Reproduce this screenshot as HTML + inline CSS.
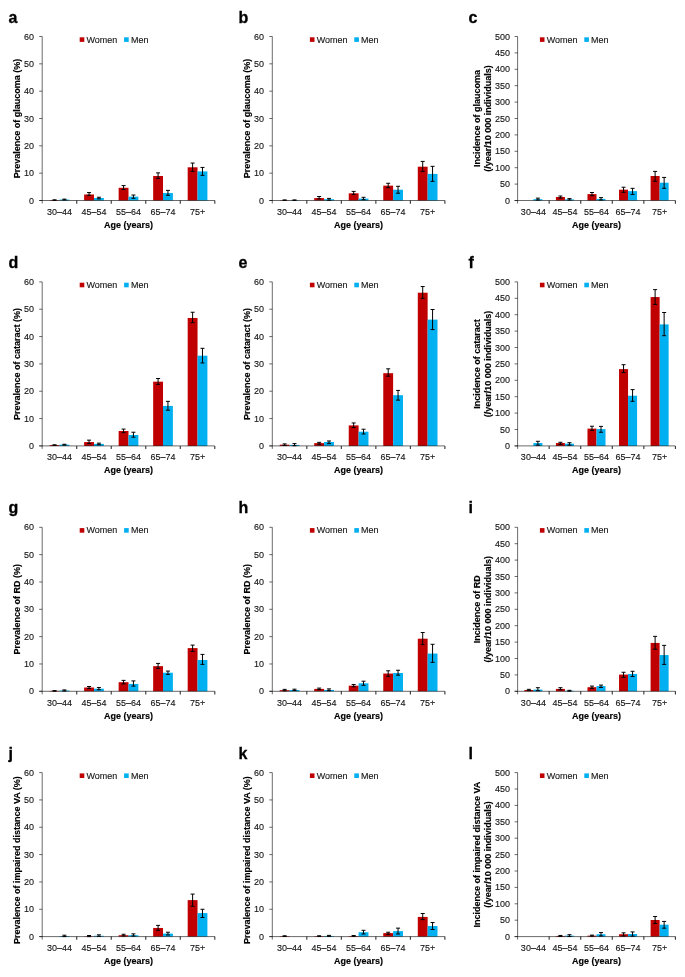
<!DOCTYPE html>
<html><head><meta charset="utf-8"><style>
html,body{margin:0;padding:0;background:#fff;}
svg{display:block;will-change:transform;}
text{font-family:"Liberation Sans",sans-serif;}
.tk{font-size:9px;fill:#1a1a1a;stroke:#000;stroke-width:0.12px;}
.tt{font-size:9px;font-weight:bold;fill:#000;stroke:#000;stroke-width:0.15px;}
.lab{font-size:16px;font-weight:bold;fill:#000;stroke:#000;stroke-width:0.3px;}
.ax{stroke:rgba(0,0,0,0.58);stroke-width:1;fill:none;}
.eb{stroke:#000;stroke-width:1;fill:none;}
.xt{stroke:rgba(0,0,0,0.8);stroke-width:1.1;fill:none;}
</style></head><body>
<svg width="685" height="977" viewBox="0 0 685 977">
<rect width="685" height="977" fill="#fff"/>
<text transform="translate(8.6 22.5)" class="lab">a</text>
<rect x="49.6" y="200.09" width="9.86" height="0.41" fill="#C00000"/>
<rect x="59.46" y="199.54" width="9.86" height="0.96" fill="#00B0F0"/>
<path d="M54.53 199.82V200.36M52.53 199.82h4M52.53 200.36h4" class="eb"/>
<path d="M64.39 199.13V199.95M62.39 199.13h4M62.39 199.95h4" class="eb"/>
<rect x="84.12" y="194.49" width="9.86" height="6.01" fill="#C00000"/>
<rect x="93.98" y="198.04" width="9.86" height="2.46" fill="#00B0F0"/>
<path d="M89.05 192.57V195.31M87.05 192.57h4M87.05 195.31h4" class="eb"/>
<path d="M98.91 197.22V198.86M96.91 197.22h4M96.91 198.86h4" class="eb"/>
<rect x="118.64" y="187.79" width="9.86" height="12.71" fill="#C00000"/>
<rect x="128.5" y="196.67" width="9.86" height="3.83" fill="#00B0F0"/>
<path d="M123.57 185.6V189.57M121.57 185.6h4M121.57 189.57h4" class="eb"/>
<path d="M133.43 195.03V198.31M131.43 195.03h4M131.43 198.31h4" class="eb"/>
<rect x="153.16" y="175.98" width="9.86" height="24.52" fill="#C00000"/>
<rect x="163.02" y="193.04" width="9.86" height="7.46" fill="#00B0F0"/>
<path d="M158.09 172.89V178.36M156.09 172.89h4M156.09 178.36h4" class="eb"/>
<path d="M167.95 190.39V195.31M165.95 190.39h4M165.95 195.31h4" class="eb"/>
<rect x="187.68" y="167.29" width="9.86" height="33.21" fill="#C00000"/>
<rect x="197.54" y="171.39" width="9.86" height="29.11" fill="#00B0F0"/>
<path d="M192.61 163.05V171.39M190.61 163.05h4M190.61 171.39h4" class="eb"/>
<path d="M202.47 167.43V175.35M200.47 167.43h4M200.47 175.35h4" class="eb"/>
<path d="M42.2 36.5V203.5" class="ax"/>
<path d="M39.2 200.5H214.8" class="ax"/>
<path d="M39.2 200.5H42.2" class="ax"/>
<text transform="translate(34 203.5) scale(1 1.08)" class="tk" text-anchor="end">0</text>
<path d="M39.2 173.17H42.2" class="ax"/>
<text transform="translate(34 176.17) scale(1 1.08)" class="tk" text-anchor="end">10</text>
<path d="M39.2 145.83H42.2" class="ax"/>
<text transform="translate(34 148.83) scale(1 1.08)" class="tk" text-anchor="end">20</text>
<path d="M39.2 118.5H42.2" class="ax"/>
<text transform="translate(34 121.5) scale(1 1.08)" class="tk" text-anchor="end">30</text>
<path d="M39.2 91.17H42.2" class="ax"/>
<text transform="translate(34 94.17) scale(1 1.08)" class="tk" text-anchor="end">40</text>
<path d="M39.2 63.83H42.2" class="ax"/>
<text transform="translate(34 66.83) scale(1 1.08)" class="tk" text-anchor="end">50</text>
<path d="M39.2 36.5H42.2" class="ax"/>
<text transform="translate(34 39.5) scale(1 1.08)" class="tk" text-anchor="end">60</text>
<path d="M76.72 200.5V203.7" class="xt"/>
<path d="M111.24 200.5V203.7" class="xt"/>
<path d="M145.76 200.5V203.7" class="xt"/>
<path d="M180.28 200.5V203.7" class="xt"/>
<path d="M214.8 200.5V203.7" class="xt"/>
<text transform="translate(59.46 214.7) scale(1 1.08)" class="tk" text-anchor="middle">30–44</text>
<text transform="translate(93.98 214.7) scale(1 1.08)" class="tk" text-anchor="middle">45–54</text>
<text transform="translate(128.5 214.7) scale(1 1.08)" class="tk" text-anchor="middle">55–64</text>
<text transform="translate(163.02 214.7) scale(1 1.08)" class="tk" text-anchor="middle">65–74</text>
<text transform="translate(197.54 214.7) scale(1 1.08)" class="tk" text-anchor="middle">75+</text>
<text transform="translate(128.5 227.8) scale(1 1.08)" class="tt" text-anchor="middle">Age (years)</text>
<text transform="translate(19.9 118.5) rotate(-90) scale(1 1.08)" class="tt" text-anchor="middle">Prevalence of glaucoma (%)</text>
<rect x="79.7" y="37.3" width="4.6" height="4.6" fill="#C00000"/>
<text transform="translate(86.5 42.6) scale(1 1.08)" class="tk">Women</text>
<rect x="124.1" y="37.3" width="4.6" height="4.6" fill="#00B0F0"/>
<text transform="translate(130.9 42.6) scale(1 1.08)" class="tk">Men</text>
<text transform="translate(238.6 22.5)" class="lab">b</text>
<rect x="279.7" y="200.23" width="9.86" height="0.27" fill="#C00000"/>
<rect x="289.56" y="200.23" width="9.86" height="0.27" fill="#00B0F0"/>
<path d="M284.63 199.95V200.36M282.63 199.95h4M282.63 200.36h4" class="eb"/>
<path d="M294.49 199.95V200.36M292.49 199.95h4M292.49 200.36h4" class="eb"/>
<rect x="314.22" y="198.09" width="9.86" height="2.41" fill="#C00000"/>
<rect x="324.08" y="199.19" width="9.86" height="1.31" fill="#00B0F0"/>
<path d="M319.15 196.51V198.91M317.15 196.51h4M317.15 198.91h4" class="eb"/>
<path d="M329.01 198.4V200.23M327.01 198.4h4M327.01 200.23h4" class="eb"/>
<rect x="348.74" y="193.31" width="9.86" height="7.19" fill="#C00000"/>
<rect x="358.6" y="198.59" width="9.86" height="1.91" fill="#00B0F0"/>
<path d="M353.67 191.4V194.4M351.67 191.4h4M351.67 194.4h4" class="eb"/>
<path d="M363.53 197.3V199.68M361.53 197.3h4M361.53 199.68h4" class="eb"/>
<rect x="383.26" y="185.63" width="9.86" height="14.87" fill="#C00000"/>
<rect x="393.12" y="189.73" width="9.86" height="10.77" fill="#00B0F0"/>
<path d="M388.19 183.28V187.65M386.19 183.28h4M386.19 187.65h4" class="eb"/>
<path d="M398.05 186.29V193.23M396.05 186.29h4M396.05 193.23h4" class="eb"/>
<rect x="417.78" y="166.69" width="9.86" height="33.81" fill="#C00000"/>
<rect x="427.64" y="173.9" width="9.86" height="26.6" fill="#00B0F0"/>
<path d="M422.71 161.41V171.39M420.71 161.41h4M420.71 171.39h4" class="eb"/>
<path d="M432.57 166.33V181.37M430.57 166.33h4M430.57 181.37h4" class="eb"/>
<path d="M272.3 36.5V203.5" class="ax"/>
<path d="M269.3 200.5H444.9" class="ax"/>
<path d="M269.3 200.5H272.3" class="ax"/>
<text transform="translate(264.1 203.5) scale(1 1.08)" class="tk" text-anchor="end">0</text>
<path d="M269.3 173.17H272.3" class="ax"/>
<text transform="translate(264.1 176.17) scale(1 1.08)" class="tk" text-anchor="end">10</text>
<path d="M269.3 145.83H272.3" class="ax"/>
<text transform="translate(264.1 148.83) scale(1 1.08)" class="tk" text-anchor="end">20</text>
<path d="M269.3 118.5H272.3" class="ax"/>
<text transform="translate(264.1 121.5) scale(1 1.08)" class="tk" text-anchor="end">30</text>
<path d="M269.3 91.17H272.3" class="ax"/>
<text transform="translate(264.1 94.17) scale(1 1.08)" class="tk" text-anchor="end">40</text>
<path d="M269.3 63.83H272.3" class="ax"/>
<text transform="translate(264.1 66.83) scale(1 1.08)" class="tk" text-anchor="end">50</text>
<path d="M269.3 36.5H272.3" class="ax"/>
<text transform="translate(264.1 39.5) scale(1 1.08)" class="tk" text-anchor="end">60</text>
<path d="M306.82 200.5V203.7" class="xt"/>
<path d="M341.34 200.5V203.7" class="xt"/>
<path d="M375.86 200.5V203.7" class="xt"/>
<path d="M410.38 200.5V203.7" class="xt"/>
<path d="M444.9 200.5V203.7" class="xt"/>
<text transform="translate(289.56 214.7) scale(1 1.08)" class="tk" text-anchor="middle">30–44</text>
<text transform="translate(324.08 214.7) scale(1 1.08)" class="tk" text-anchor="middle">45–54</text>
<text transform="translate(358.6 214.7) scale(1 1.08)" class="tk" text-anchor="middle">55–64</text>
<text transform="translate(393.12 214.7) scale(1 1.08)" class="tk" text-anchor="middle">65–74</text>
<text transform="translate(427.64 214.7) scale(1 1.08)" class="tk" text-anchor="middle">75+</text>
<text transform="translate(358.6 227.8) scale(1 1.08)" class="tt" text-anchor="middle">Age (years)</text>
<text transform="translate(250 118.5) rotate(-90) scale(1 1.08)" class="tt" text-anchor="middle">Prevalence of glaucoma (%)</text>
<rect x="309.9" y="37.3" width="4.6" height="4.6" fill="#C00000"/>
<text transform="translate(316.7 42.6) scale(1 1.08)" class="tk">Women</text>
<rect x="354.3" y="37.3" width="4.6" height="4.6" fill="#00B0F0"/>
<text transform="translate(361.1 42.6) scale(1 1.08)" class="tk">Men</text>
<text transform="translate(468.6 22.5)" class="lab">c</text>
<rect x="533.38" y="199.19" width="9.02" height="1.31" fill="#00B0F0"/>
<path d="M537.89 198.11V200.01M535.89 198.11h4M535.89 200.01h4" class="eb"/>
<rect x="555.92" y="196.99" width="9.02" height="3.51" fill="#C00000"/>
<rect x="564.94" y="199.38" width="9.02" height="1.12" fill="#00B0F0"/>
<path d="M560.43 196.01V198.11M558.43 196.01h4M558.43 198.11h4" class="eb"/>
<path d="M569.45 198.6V200.01M567.45 198.6h4M567.45 200.01h4" class="eb"/>
<rect x="587.48" y="194.1" width="9.02" height="6.4" fill="#C00000"/>
<rect x="596.5" y="198.89" width="9.02" height="1.61" fill="#00B0F0"/>
<path d="M591.99 192.5V195.71M589.99 192.5h4M589.99 195.71h4" class="eb"/>
<path d="M601.01 197.61V200.01M599.01 197.61h4M599.01 200.01h4" class="eb"/>
<rect x="619.04" y="189.68" width="9.02" height="10.82" fill="#C00000"/>
<rect x="628.06" y="191.12" width="9.02" height="9.38" fill="#00B0F0"/>
<path d="M623.55 187.22V192.3M621.55 187.22h4M621.55 192.3h4" class="eb"/>
<path d="M632.57 188.33V194.43M630.57 188.33h4M630.57 194.43h4" class="eb"/>
<rect x="650.6" y="176" width="9.02" height="24.5" fill="#C00000"/>
<rect x="659.62" y="182.72" width="9.02" height="17.78" fill="#00B0F0"/>
<path d="M655.11 171.41V181.31M653.11 171.41h4M653.11 181.31h4" class="eb"/>
<path d="M664.13 177.41V188.33M662.13 177.41h4M662.13 188.33h4" class="eb"/>
<path d="M517.6 36.5V203.5" class="ax"/>
<path d="M514.6 200.5H675.4" class="ax"/>
<path d="M514.6 200.5H517.6" class="ax"/>
<text transform="translate(509.9 203.5) scale(1 1.08)" class="tk" text-anchor="end">0</text>
<path d="M514.6 184.1H517.6" class="ax"/>
<text transform="translate(509.9 187.1) scale(1 1.08)" class="tk" text-anchor="end">50</text>
<path d="M514.6 167.7H517.6" class="ax"/>
<text transform="translate(509.9 170.7) scale(1 1.08)" class="tk" text-anchor="end">100</text>
<path d="M514.6 151.3H517.6" class="ax"/>
<text transform="translate(509.9 154.3) scale(1 1.08)" class="tk" text-anchor="end">150</text>
<path d="M514.6 134.9H517.6" class="ax"/>
<text transform="translate(509.9 137.9) scale(1 1.08)" class="tk" text-anchor="end">200</text>
<path d="M514.6 118.5H517.6" class="ax"/>
<text transform="translate(509.9 121.5) scale(1 1.08)" class="tk" text-anchor="end">250</text>
<path d="M514.6 102.1H517.6" class="ax"/>
<text transform="translate(509.9 105.1) scale(1 1.08)" class="tk" text-anchor="end">300</text>
<path d="M514.6 85.7H517.6" class="ax"/>
<text transform="translate(509.9 88.7) scale(1 1.08)" class="tk" text-anchor="end">350</text>
<path d="M514.6 69.3H517.6" class="ax"/>
<text transform="translate(509.9 72.3) scale(1 1.08)" class="tk" text-anchor="end">400</text>
<path d="M514.6 52.9H517.6" class="ax"/>
<text transform="translate(509.9 55.9) scale(1 1.08)" class="tk" text-anchor="end">450</text>
<path d="M514.6 36.5H517.6" class="ax"/>
<text transform="translate(509.9 39.5) scale(1 1.08)" class="tk" text-anchor="end">500</text>
<path d="M549.16 200.5V203.7" class="xt"/>
<path d="M580.72 200.5V203.7" class="xt"/>
<path d="M612.28 200.5V203.7" class="xt"/>
<path d="M643.84 200.5V203.7" class="xt"/>
<path d="M675.4 200.5V203.7" class="xt"/>
<text transform="translate(533.38 214.7) scale(1 1.08)" class="tk" text-anchor="middle">30–44</text>
<text transform="translate(564.94 214.7) scale(1 1.08)" class="tk" text-anchor="middle">45–54</text>
<text transform="translate(596.5 214.7) scale(1 1.08)" class="tk" text-anchor="middle">55–64</text>
<text transform="translate(628.06 214.7) scale(1 1.08)" class="tk" text-anchor="middle">65–74</text>
<text transform="translate(659.62 214.7) scale(1 1.08)" class="tk" text-anchor="middle">75+</text>
<text transform="translate(596.5 227.8) scale(1 1.08)" class="tt" text-anchor="middle">Age (years)</text>
<text transform="translate(480.2 118.5) rotate(-90) scale(1 1.08)" class="tt" text-anchor="middle">Incidence of glaucoma</text>
<text transform="translate(490.8 118.5) rotate(-90) scale(1 1.08)" class="tt" text-anchor="middle">(/year/10 000 individuals)</text>
<rect x="539.9" y="37.3" width="4.6" height="4.6" fill="#C00000"/>
<text transform="translate(546.7 42.6) scale(1 1.08)" class="tk">Women</text>
<rect x="584.3" y="37.3" width="4.6" height="4.6" fill="#00B0F0"/>
<text transform="translate(591.1 42.6) scale(1 1.08)" class="tk">Men</text>
<text transform="translate(8.6 267.9)" class="lab">d</text>
<rect x="49.6" y="445.08" width="9.86" height="0.82" fill="#C00000"/>
<rect x="59.46" y="444.67" width="9.86" height="1.23" fill="#00B0F0"/>
<path d="M54.53 444.81V445.35M52.53 444.81h4M52.53 445.35h4" class="eb"/>
<path d="M64.39 444.26V445.08M62.39 444.26h4M62.39 445.08h4" class="eb"/>
<rect x="84.12" y="442.07" width="9.86" height="3.83" fill="#C00000"/>
<rect x="93.98" y="443.9" width="9.86" height="2" fill="#00B0F0"/>
<path d="M89.05 440.16V443.6M87.05 440.16h4M87.05 443.6h4" class="eb"/>
<path d="M98.91 443.17V444.7M96.91 443.17h4M96.91 444.7h4" class="eb"/>
<rect x="118.64" y="431" width="9.86" height="14.9" fill="#C00000"/>
<rect x="128.5" y="434.97" width="9.86" height="10.93" fill="#00B0F0"/>
<path d="M123.57 429.09V432.7M121.57 429.09h4M121.57 432.7h4" class="eb"/>
<path d="M133.43 432.23V437.21M131.43 432.23h4M131.43 437.21h4" class="eb"/>
<rect x="153.16" y="381.67" width="9.86" height="64.23" fill="#C00000"/>
<rect x="163.02" y="405.91" width="9.86" height="39.99" fill="#00B0F0"/>
<path d="M158.09 378.5V384.4M156.09 378.5h4M156.09 384.4h4" class="eb"/>
<path d="M167.95 401.35V410.2M165.95 401.35h4M165.95 410.2h4" class="eb"/>
<rect x="187.68" y="317.98" width="9.86" height="127.92" fill="#C00000"/>
<rect x="197.54" y="355.7" width="9.86" height="90.2" fill="#00B0F0"/>
<path d="M192.61 312.24V322.71M190.61 312.24h4M190.61 322.71h4" class="eb"/>
<path d="M202.47 348.32V362.94M200.47 348.32h4M200.47 362.94h4" class="eb"/>
<path d="M42.2 281.9V448.9" class="ax"/>
<path d="M39.2 445.9H214.8" class="ax"/>
<path d="M39.2 445.9H42.2" class="ax"/>
<text transform="translate(34 448.9) scale(1 1.08)" class="tk" text-anchor="end">0</text>
<path d="M39.2 418.57H42.2" class="ax"/>
<text transform="translate(34 421.57) scale(1 1.08)" class="tk" text-anchor="end">10</text>
<path d="M39.2 391.23H42.2" class="ax"/>
<text transform="translate(34 394.23) scale(1 1.08)" class="tk" text-anchor="end">20</text>
<path d="M39.2 363.9H42.2" class="ax"/>
<text transform="translate(34 366.9) scale(1 1.08)" class="tk" text-anchor="end">30</text>
<path d="M39.2 336.57H42.2" class="ax"/>
<text transform="translate(34 339.57) scale(1 1.08)" class="tk" text-anchor="end">40</text>
<path d="M39.2 309.23H42.2" class="ax"/>
<text transform="translate(34 312.23) scale(1 1.08)" class="tk" text-anchor="end">50</text>
<path d="M39.2 281.9H42.2" class="ax"/>
<text transform="translate(34 284.9) scale(1 1.08)" class="tk" text-anchor="end">60</text>
<path d="M76.72 445.9V449.1" class="xt"/>
<path d="M111.24 445.9V449.1" class="xt"/>
<path d="M145.76 445.9V449.1" class="xt"/>
<path d="M180.28 445.9V449.1" class="xt"/>
<path d="M214.8 445.9V449.1" class="xt"/>
<text transform="translate(59.46 460.1) scale(1 1.08)" class="tk" text-anchor="middle">30–44</text>
<text transform="translate(93.98 460.1) scale(1 1.08)" class="tk" text-anchor="middle">45–54</text>
<text transform="translate(128.5 460.1) scale(1 1.08)" class="tk" text-anchor="middle">55–64</text>
<text transform="translate(163.02 460.1) scale(1 1.08)" class="tk" text-anchor="middle">65–74</text>
<text transform="translate(197.54 460.1) scale(1 1.08)" class="tk" text-anchor="middle">75+</text>
<text transform="translate(128.5 473.2) scale(1 1.08)" class="tt" text-anchor="middle">Age (years)</text>
<text transform="translate(19.9 363.9) rotate(-90) scale(1 1.08)" class="tt" text-anchor="middle">Prevalence of cataract (%)</text>
<rect x="79.7" y="282.7" width="4.6" height="4.6" fill="#C00000"/>
<text transform="translate(86.5 288) scale(1 1.08)" class="tk">Women</text>
<rect x="124.1" y="282.7" width="4.6" height="4.6" fill="#00B0F0"/>
<text transform="translate(130.9 288) scale(1 1.08)" class="tk">Men</text>
<text transform="translate(238.6 267.9)" class="lab">e</text>
<rect x="279.7" y="444.67" width="9.86" height="1.23" fill="#C00000"/>
<rect x="289.56" y="444.89" width="9.86" height="1.01" fill="#00B0F0"/>
<path d="M284.63 443.9V445.49M282.63 443.9h4M282.63 445.49h4" class="eb"/>
<path d="M294.49 443.6V445.71M292.49 443.6h4M292.49 445.71h4" class="eb"/>
<rect x="314.22" y="443.11" width="9.86" height="2.79" fill="#C00000"/>
<rect x="324.08" y="441.99" width="9.86" height="3.91" fill="#00B0F0"/>
<path d="M319.15 442.35V444.26M317.15 442.35h4M317.15 444.26h4" class="eb"/>
<path d="M329.01 440.98V443.6M327.01 440.98h4M327.01 443.6h4" class="eb"/>
<rect x="348.74" y="425.4" width="9.86" height="20.5" fill="#C00000"/>
<rect x="358.6" y="431.69" width="9.86" height="14.21" fill="#00B0F0"/>
<path d="M353.67 422.94V427.59M351.67 422.94h4M351.67 427.59h4" class="eb"/>
<path d="M363.53 429.23V434.01M361.53 429.23h4M361.53 434.01h4" class="eb"/>
<rect x="383.26" y="373.19" width="9.86" height="72.71" fill="#C00000"/>
<rect x="393.12" y="395.2" width="9.86" height="50.7" fill="#00B0F0"/>
<path d="M388.19 368.82V376.2M386.19 368.82h4M386.19 376.2h4" class="eb"/>
<path d="M398.05 390.41V400.12M396.05 390.41h4M396.05 400.12h4" class="eb"/>
<rect x="417.78" y="292.7" width="9.86" height="153.2" fill="#C00000"/>
<rect x="427.64" y="319.62" width="9.86" height="126.28" fill="#00B0F0"/>
<path d="M422.71 286.55V298.3M420.71 286.55h4M420.71 298.3h4" class="eb"/>
<path d="M432.57 309.51V329.6M430.57 309.51h4M430.57 329.6h4" class="eb"/>
<path d="M272.3 281.9V448.9" class="ax"/>
<path d="M269.3 445.9H444.9" class="ax"/>
<path d="M269.3 445.9H272.3" class="ax"/>
<text transform="translate(264.1 448.9) scale(1 1.08)" class="tk" text-anchor="end">0</text>
<path d="M269.3 418.57H272.3" class="ax"/>
<text transform="translate(264.1 421.57) scale(1 1.08)" class="tk" text-anchor="end">10</text>
<path d="M269.3 391.23H272.3" class="ax"/>
<text transform="translate(264.1 394.23) scale(1 1.08)" class="tk" text-anchor="end">20</text>
<path d="M269.3 363.9H272.3" class="ax"/>
<text transform="translate(264.1 366.9) scale(1 1.08)" class="tk" text-anchor="end">30</text>
<path d="M269.3 336.57H272.3" class="ax"/>
<text transform="translate(264.1 339.57) scale(1 1.08)" class="tk" text-anchor="end">40</text>
<path d="M269.3 309.23H272.3" class="ax"/>
<text transform="translate(264.1 312.23) scale(1 1.08)" class="tk" text-anchor="end">50</text>
<path d="M269.3 281.9H272.3" class="ax"/>
<text transform="translate(264.1 284.9) scale(1 1.08)" class="tk" text-anchor="end">60</text>
<path d="M306.82 445.9V449.1" class="xt"/>
<path d="M341.34 445.9V449.1" class="xt"/>
<path d="M375.86 445.9V449.1" class="xt"/>
<path d="M410.38 445.9V449.1" class="xt"/>
<path d="M444.9 445.9V449.1" class="xt"/>
<text transform="translate(289.56 460.1) scale(1 1.08)" class="tk" text-anchor="middle">30–44</text>
<text transform="translate(324.08 460.1) scale(1 1.08)" class="tk" text-anchor="middle">45–54</text>
<text transform="translate(358.6 460.1) scale(1 1.08)" class="tk" text-anchor="middle">55–64</text>
<text transform="translate(393.12 460.1) scale(1 1.08)" class="tk" text-anchor="middle">65–74</text>
<text transform="translate(427.64 460.1) scale(1 1.08)" class="tk" text-anchor="middle">75+</text>
<text transform="translate(358.6 473.2) scale(1 1.08)" class="tt" text-anchor="middle">Age (years)</text>
<text transform="translate(250 363.9) rotate(-90) scale(1 1.08)" class="tt" text-anchor="middle">Prevalence of cataract (%)</text>
<rect x="309.9" y="282.7" width="4.6" height="4.6" fill="#C00000"/>
<text transform="translate(316.7 288) scale(1 1.08)" class="tk">Women</text>
<rect x="354.3" y="282.7" width="4.6" height="4.6" fill="#00B0F0"/>
<text transform="translate(361.1 288) scale(1 1.08)" class="tk">Men</text>
<text transform="translate(468.6 267.9)" class="lab">f</text>
<rect x="533.38" y="443.05" width="9.02" height="2.85" fill="#00B0F0"/>
<path d="M537.89 441.31V445.15M535.89 441.31h4M535.89 445.15h4" class="eb"/>
<rect x="555.92" y="443.05" width="9.02" height="2.85" fill="#C00000"/>
<rect x="564.94" y="443.7" width="9.02" height="2.2" fill="#00B0F0"/>
<path d="M560.43 442.29V444.36M558.43 442.29h4M558.43 444.36h4" class="eb"/>
<path d="M569.45 442.69V445.15M567.45 442.69h4M567.45 445.15h4" class="eb"/>
<rect x="587.48" y="428.61" width="9.02" height="17.29" fill="#C00000"/>
<rect x="596.5" y="429.11" width="9.02" height="16.79" fill="#00B0F0"/>
<path d="M591.99 426.22V430.39M589.99 426.22h4M589.99 430.39h4" class="eb"/>
<path d="M601.01 426.38V432.29M599.01 426.38h4M599.01 432.29h4" class="eb"/>
<rect x="619.04" y="369.12" width="9.02" height="76.78" fill="#C00000"/>
<rect x="628.06" y="395.72" width="9.02" height="50.18" fill="#00B0F0"/>
<path d="M623.55 364.69V372.59M621.55 364.69h4M621.55 372.59h4" class="eb"/>
<path d="M632.57 389.62V401.29M630.57 389.62h4M630.57 401.29h4" class="eb"/>
<rect x="650.6" y="297.05" width="9.02" height="148.85" fill="#C00000"/>
<rect x="659.62" y="324.41" width="9.02" height="121.49" fill="#00B0F0"/>
<path d="M655.11 289.61V304.4M653.11 289.61h4M653.11 304.4h4" class="eb"/>
<path d="M664.13 312.5V335.69M662.13 312.5h4M662.13 335.69h4" class="eb"/>
<path d="M517.6 281.9V448.9" class="ax"/>
<path d="M514.6 445.9H675.4" class="ax"/>
<path d="M514.6 445.9H517.6" class="ax"/>
<text transform="translate(509.9 448.9) scale(1 1.08)" class="tk" text-anchor="end">0</text>
<path d="M514.6 429.5H517.6" class="ax"/>
<text transform="translate(509.9 432.5) scale(1 1.08)" class="tk" text-anchor="end">50</text>
<path d="M514.6 413.1H517.6" class="ax"/>
<text transform="translate(509.9 416.1) scale(1 1.08)" class="tk" text-anchor="end">100</text>
<path d="M514.6 396.7H517.6" class="ax"/>
<text transform="translate(509.9 399.7) scale(1 1.08)" class="tk" text-anchor="end">150</text>
<path d="M514.6 380.3H517.6" class="ax"/>
<text transform="translate(509.9 383.3) scale(1 1.08)" class="tk" text-anchor="end">200</text>
<path d="M514.6 363.9H517.6" class="ax"/>
<text transform="translate(509.9 366.9) scale(1 1.08)" class="tk" text-anchor="end">250</text>
<path d="M514.6 347.5H517.6" class="ax"/>
<text transform="translate(509.9 350.5) scale(1 1.08)" class="tk" text-anchor="end">300</text>
<path d="M514.6 331.1H517.6" class="ax"/>
<text transform="translate(509.9 334.1) scale(1 1.08)" class="tk" text-anchor="end">350</text>
<path d="M514.6 314.7H517.6" class="ax"/>
<text transform="translate(509.9 317.7) scale(1 1.08)" class="tk" text-anchor="end">400</text>
<path d="M514.6 298.3H517.6" class="ax"/>
<text transform="translate(509.9 301.3) scale(1 1.08)" class="tk" text-anchor="end">450</text>
<path d="M514.6 281.9H517.6" class="ax"/>
<text transform="translate(509.9 284.9) scale(1 1.08)" class="tk" text-anchor="end">500</text>
<path d="M549.16 445.9V449.1" class="xt"/>
<path d="M580.72 445.9V449.1" class="xt"/>
<path d="M612.28 445.9V449.1" class="xt"/>
<path d="M643.84 445.9V449.1" class="xt"/>
<path d="M675.4 445.9V449.1" class="xt"/>
<text transform="translate(533.38 460.1) scale(1 1.08)" class="tk" text-anchor="middle">30–44</text>
<text transform="translate(564.94 460.1) scale(1 1.08)" class="tk" text-anchor="middle">45–54</text>
<text transform="translate(596.5 460.1) scale(1 1.08)" class="tk" text-anchor="middle">55–64</text>
<text transform="translate(628.06 460.1) scale(1 1.08)" class="tk" text-anchor="middle">65–74</text>
<text transform="translate(659.62 460.1) scale(1 1.08)" class="tk" text-anchor="middle">75+</text>
<text transform="translate(596.5 473.2) scale(1 1.08)" class="tt" text-anchor="middle">Age (years)</text>
<text transform="translate(480.2 363.9) rotate(-90) scale(1 1.08)" class="tt" text-anchor="middle">Incidence of cataract</text>
<text transform="translate(490.8 363.9) rotate(-90) scale(1 1.08)" class="tt" text-anchor="middle">(/year/10 000 individuals)</text>
<rect x="539.9" y="282.7" width="4.6" height="4.6" fill="#C00000"/>
<text transform="translate(546.7 288) scale(1 1.08)" class="tk">Women</text>
<rect x="584.3" y="282.7" width="4.6" height="4.6" fill="#00B0F0"/>
<text transform="translate(591.1 288) scale(1 1.08)" class="tk">Men</text>
<text transform="translate(8.6 513.3)" class="lab">g</text>
<rect x="49.6" y="690.89" width="9.86" height="0.41" fill="#C00000"/>
<rect x="59.46" y="690.48" width="9.86" height="0.82" fill="#00B0F0"/>
<path d="M54.53 690.62V691.16M52.53 690.62h4M52.53 691.16h4" class="eb"/>
<path d="M64.39 689.93V691.03M62.39 689.93h4M62.39 691.03h4" class="eb"/>
<rect x="84.12" y="687.5" width="9.86" height="3.8" fill="#C00000"/>
<rect x="93.98" y="688.7" width="9.86" height="2.6" fill="#00B0F0"/>
<path d="M89.05 686.49V688.57M87.05 686.49h4M87.05 688.57h4" class="eb"/>
<path d="M98.91 687.47V689.71M96.91 687.47h4M96.91 689.71h4" class="eb"/>
<rect x="118.64" y="682.2" width="9.86" height="9.1" fill="#C00000"/>
<rect x="128.5" y="683.92" width="9.86" height="7.38" fill="#00B0F0"/>
<path d="M123.57 680.37V683.92M121.57 680.37h4M121.57 683.92h4" class="eb"/>
<path d="M133.43 680.91V686.11M131.43 680.91h4M131.43 686.11h4" class="eb"/>
<rect x="153.16" y="666.15" width="9.86" height="25.15" fill="#C00000"/>
<rect x="163.02" y="672.71" width="9.86" height="18.59" fill="#00B0F0"/>
<path d="M158.09 663.42V668.34M156.09 663.42h4M156.09 668.34h4" class="eb"/>
<path d="M167.95 671.07V674.35M165.95 671.07h4M165.95 674.35h4" class="eb"/>
<rect x="187.68" y="648.11" width="9.86" height="43.19" fill="#C00000"/>
<rect x="197.54" y="660" width="9.86" height="31.3" fill="#00B0F0"/>
<path d="M192.61 645.11V651.39M190.61 645.11h4M190.61 651.39h4" class="eb"/>
<path d="M202.47 654.4V664.38M200.47 654.4h4M200.47 664.38h4" class="eb"/>
<path d="M42.2 527.3V694.3" class="ax"/>
<path d="M39.2 691.3H214.8" class="ax"/>
<path d="M39.2 691.3H42.2" class="ax"/>
<text transform="translate(34 694.3) scale(1 1.08)" class="tk" text-anchor="end">0</text>
<path d="M39.2 663.97H42.2" class="ax"/>
<text transform="translate(34 666.97) scale(1 1.08)" class="tk" text-anchor="end">10</text>
<path d="M39.2 636.63H42.2" class="ax"/>
<text transform="translate(34 639.63) scale(1 1.08)" class="tk" text-anchor="end">20</text>
<path d="M39.2 609.3H42.2" class="ax"/>
<text transform="translate(34 612.3) scale(1 1.08)" class="tk" text-anchor="end">30</text>
<path d="M39.2 581.97H42.2" class="ax"/>
<text transform="translate(34 584.97) scale(1 1.08)" class="tk" text-anchor="end">40</text>
<path d="M39.2 554.63H42.2" class="ax"/>
<text transform="translate(34 557.63) scale(1 1.08)" class="tk" text-anchor="end">50</text>
<path d="M39.2 527.3H42.2" class="ax"/>
<text transform="translate(34 530.3) scale(1 1.08)" class="tk" text-anchor="end">60</text>
<path d="M76.72 691.3V694.5" class="xt"/>
<path d="M111.24 691.3V694.5" class="xt"/>
<path d="M145.76 691.3V694.5" class="xt"/>
<path d="M180.28 691.3V694.5" class="xt"/>
<path d="M214.8 691.3V694.5" class="xt"/>
<text transform="translate(59.46 705.5) scale(1 1.08)" class="tk" text-anchor="middle">30–44</text>
<text transform="translate(93.98 705.5) scale(1 1.08)" class="tk" text-anchor="middle">45–54</text>
<text transform="translate(128.5 705.5) scale(1 1.08)" class="tk" text-anchor="middle">55–64</text>
<text transform="translate(163.02 705.5) scale(1 1.08)" class="tk" text-anchor="middle">65–74</text>
<text transform="translate(197.54 705.5) scale(1 1.08)" class="tk" text-anchor="middle">75+</text>
<text transform="translate(128.5 718.6) scale(1 1.08)" class="tt" text-anchor="middle">Age (years)</text>
<text transform="translate(19.9 609.3) rotate(-90) scale(1 1.08)" class="tt" text-anchor="middle">Prevalence of RD (%)</text>
<rect x="79.7" y="528.1" width="4.6" height="4.6" fill="#C00000"/>
<text transform="translate(86.5 533.4) scale(1 1.08)" class="tk">Women</text>
<rect x="124.1" y="528.1" width="4.6" height="4.6" fill="#00B0F0"/>
<text transform="translate(130.9 533.4) scale(1 1.08)" class="tk">Men</text>
<text transform="translate(238.6 513.3)" class="lab">h</text>
<rect x="279.7" y="690.21" width="9.86" height="1.09" fill="#C00000"/>
<rect x="289.56" y="690.02" width="9.86" height="1.28" fill="#00B0F0"/>
<path d="M284.63 689.39V690.75M282.63 689.39h4M282.63 690.75h4" class="eb"/>
<path d="M294.49 689.2V690.48M292.49 689.2h4M292.49 690.48h4" class="eb"/>
<rect x="314.22" y="688.89" width="9.86" height="2.41" fill="#C00000"/>
<rect x="324.08" y="689.91" width="9.86" height="1.39" fill="#00B0F0"/>
<path d="M319.15 688.1V689.71M317.15 688.1h4M317.15 689.71h4" class="eb"/>
<path d="M329.01 688.89V690.7M327.01 688.89h4M327.01 690.7h4" class="eb"/>
<rect x="348.74" y="685.7" width="9.86" height="5.6" fill="#C00000"/>
<rect x="358.6" y="683.29" width="9.86" height="8.01" fill="#00B0F0"/>
<path d="M353.67 684.47V686.79M351.67 684.47h4M351.67 686.79h4" class="eb"/>
<path d="M363.53 681.19V685.29M361.53 681.19h4M361.53 685.29h4" class="eb"/>
<rect x="383.26" y="673.53" width="9.86" height="17.77" fill="#C00000"/>
<rect x="393.12" y="672.99" width="9.86" height="18.31" fill="#00B0F0"/>
<path d="M388.19 670.8V676.27M386.19 670.8h4M386.19 676.27h4" class="eb"/>
<path d="M398.05 670.25V675.17M396.05 670.25h4M396.05 675.17h4" class="eb"/>
<rect x="417.78" y="638.68" width="9.86" height="52.62" fill="#C00000"/>
<rect x="427.64" y="653.58" width="9.86" height="37.72" fill="#00B0F0"/>
<path d="M422.71 632.53V644.56M420.71 632.53h4M420.71 644.56h4" class="eb"/>
<path d="M432.57 644.29V662.33M430.57 644.29h4M430.57 662.33h4" class="eb"/>
<path d="M272.3 527.3V694.3" class="ax"/>
<path d="M269.3 691.3H444.9" class="ax"/>
<path d="M269.3 691.3H272.3" class="ax"/>
<text transform="translate(264.1 694.3) scale(1 1.08)" class="tk" text-anchor="end">0</text>
<path d="M269.3 663.97H272.3" class="ax"/>
<text transform="translate(264.1 666.97) scale(1 1.08)" class="tk" text-anchor="end">10</text>
<path d="M269.3 636.63H272.3" class="ax"/>
<text transform="translate(264.1 639.63) scale(1 1.08)" class="tk" text-anchor="end">20</text>
<path d="M269.3 609.3H272.3" class="ax"/>
<text transform="translate(264.1 612.3) scale(1 1.08)" class="tk" text-anchor="end">30</text>
<path d="M269.3 581.97H272.3" class="ax"/>
<text transform="translate(264.1 584.97) scale(1 1.08)" class="tk" text-anchor="end">40</text>
<path d="M269.3 554.63H272.3" class="ax"/>
<text transform="translate(264.1 557.63) scale(1 1.08)" class="tk" text-anchor="end">50</text>
<path d="M269.3 527.3H272.3" class="ax"/>
<text transform="translate(264.1 530.3) scale(1 1.08)" class="tk" text-anchor="end">60</text>
<path d="M306.82 691.3V694.5" class="xt"/>
<path d="M341.34 691.3V694.5" class="xt"/>
<path d="M375.86 691.3V694.5" class="xt"/>
<path d="M410.38 691.3V694.5" class="xt"/>
<path d="M444.9 691.3V694.5" class="xt"/>
<text transform="translate(289.56 705.5) scale(1 1.08)" class="tk" text-anchor="middle">30–44</text>
<text transform="translate(324.08 705.5) scale(1 1.08)" class="tk" text-anchor="middle">45–54</text>
<text transform="translate(358.6 705.5) scale(1 1.08)" class="tk" text-anchor="middle">55–64</text>
<text transform="translate(393.12 705.5) scale(1 1.08)" class="tk" text-anchor="middle">65–74</text>
<text transform="translate(427.64 705.5) scale(1 1.08)" class="tk" text-anchor="middle">75+</text>
<text transform="translate(358.6 718.6) scale(1 1.08)" class="tt" text-anchor="middle">Age (years)</text>
<text transform="translate(250 609.3) rotate(-90) scale(1 1.08)" class="tt" text-anchor="middle">Prevalence of RD (%)</text>
<rect x="309.9" y="528.1" width="4.6" height="4.6" fill="#C00000"/>
<text transform="translate(316.7 533.4) scale(1 1.08)" class="tk">Women</text>
<rect x="354.3" y="528.1" width="4.6" height="4.6" fill="#00B0F0"/>
<text transform="translate(361.1 533.4) scale(1 1.08)" class="tk">Men</text>
<text transform="translate(468.6 513.3)" class="lab">i</text>
<rect x="524.36" y="689.99" width="9.02" height="1.31" fill="#C00000"/>
<rect x="533.38" y="689.59" width="9.02" height="1.71" fill="#00B0F0"/>
<path d="M528.87 689.33V690.64M526.87 689.33h4M526.87 690.64h4" class="eb"/>
<path d="M537.89 687.69V690.71M535.89 687.69h4M535.89 690.71h4" class="eb"/>
<rect x="555.92" y="688.91" width="9.02" height="2.39" fill="#C00000"/>
<rect x="564.94" y="690.81" width="9.02" height="0.49" fill="#00B0F0"/>
<path d="M560.43 687.69V689.79M558.43 687.69h4M558.43 689.79h4" class="eb"/>
<path d="M569.45 690.32V691.14M567.45 690.32h4M567.45 691.14h4" class="eb"/>
<rect x="587.48" y="687.2" width="9.02" height="4.1" fill="#C00000"/>
<rect x="596.5" y="686.08" width="9.02" height="5.22" fill="#00B0F0"/>
<path d="M591.99 686.08V688.41M589.99 686.08h4M589.99 688.41h4" class="eb"/>
<path d="M601.01 685.1V687.5M599.01 685.1h4M599.01 687.5h4" class="eb"/>
<rect x="619.04" y="674.57" width="9.02" height="16.73" fill="#C00000"/>
<rect x="628.06" y="673.92" width="9.02" height="17.38" fill="#00B0F0"/>
<path d="M623.55 672.28V677.33M621.55 672.28h4M621.55 677.33h4" class="eb"/>
<path d="M632.57 671.29V676.54M630.57 671.29h4M630.57 676.54h4" class="eb"/>
<rect x="650.6" y="642.92" width="9.02" height="48.38" fill="#C00000"/>
<rect x="659.62" y="655.06" width="9.02" height="36.24" fill="#00B0F0"/>
<path d="M655.11 636.36V649.18M653.11 636.36h4M653.11 649.18h4" class="eb"/>
<path d="M664.13 645.38V664.4M662.13 645.38h4M662.13 664.4h4" class="eb"/>
<path d="M517.6 527.3V694.3" class="ax"/>
<path d="M514.6 691.3H675.4" class="ax"/>
<path d="M514.6 691.3H517.6" class="ax"/>
<text transform="translate(509.9 694.3) scale(1 1.08)" class="tk" text-anchor="end">0</text>
<path d="M514.6 674.9H517.6" class="ax"/>
<text transform="translate(509.9 677.9) scale(1 1.08)" class="tk" text-anchor="end">50</text>
<path d="M514.6 658.5H517.6" class="ax"/>
<text transform="translate(509.9 661.5) scale(1 1.08)" class="tk" text-anchor="end">100</text>
<path d="M514.6 642.1H517.6" class="ax"/>
<text transform="translate(509.9 645.1) scale(1 1.08)" class="tk" text-anchor="end">150</text>
<path d="M514.6 625.7H517.6" class="ax"/>
<text transform="translate(509.9 628.7) scale(1 1.08)" class="tk" text-anchor="end">200</text>
<path d="M514.6 609.3H517.6" class="ax"/>
<text transform="translate(509.9 612.3) scale(1 1.08)" class="tk" text-anchor="end">250</text>
<path d="M514.6 592.9H517.6" class="ax"/>
<text transform="translate(509.9 595.9) scale(1 1.08)" class="tk" text-anchor="end">300</text>
<path d="M514.6 576.5H517.6" class="ax"/>
<text transform="translate(509.9 579.5) scale(1 1.08)" class="tk" text-anchor="end">350</text>
<path d="M514.6 560.1H517.6" class="ax"/>
<text transform="translate(509.9 563.1) scale(1 1.08)" class="tk" text-anchor="end">400</text>
<path d="M514.6 543.7H517.6" class="ax"/>
<text transform="translate(509.9 546.7) scale(1 1.08)" class="tk" text-anchor="end">450</text>
<path d="M514.6 527.3H517.6" class="ax"/>
<text transform="translate(509.9 530.3) scale(1 1.08)" class="tk" text-anchor="end">500</text>
<path d="M549.16 691.3V694.5" class="xt"/>
<path d="M580.72 691.3V694.5" class="xt"/>
<path d="M612.28 691.3V694.5" class="xt"/>
<path d="M643.84 691.3V694.5" class="xt"/>
<path d="M675.4 691.3V694.5" class="xt"/>
<text transform="translate(533.38 705.5) scale(1 1.08)" class="tk" text-anchor="middle">30–44</text>
<text transform="translate(564.94 705.5) scale(1 1.08)" class="tk" text-anchor="middle">45–54</text>
<text transform="translate(596.5 705.5) scale(1 1.08)" class="tk" text-anchor="middle">55–64</text>
<text transform="translate(628.06 705.5) scale(1 1.08)" class="tk" text-anchor="middle">65–74</text>
<text transform="translate(659.62 705.5) scale(1 1.08)" class="tk" text-anchor="middle">75+</text>
<text transform="translate(596.5 718.6) scale(1 1.08)" class="tt" text-anchor="middle">Age (years)</text>
<text transform="translate(480.2 609.3) rotate(-90) scale(1 1.08)" class="tt" text-anchor="middle">Incidence of RD</text>
<text transform="translate(490.8 609.3) rotate(-90) scale(1 1.08)" class="tt" text-anchor="middle">(/year/10 000 individuals)</text>
<rect x="539.9" y="528.1" width="4.6" height="4.6" fill="#C00000"/>
<text transform="translate(546.7 533.4) scale(1 1.08)" class="tk">Women</text>
<rect x="584.3" y="528.1" width="4.6" height="4.6" fill="#00B0F0"/>
<text transform="translate(591.1 533.4) scale(1 1.08)" class="tk">Men</text>
<text transform="translate(8.6 758.6)" class="lab">j</text>
<rect x="59.46" y="936.05" width="9.86" height="0.55" fill="#00B0F0"/>
<path d="M64.39 935.23V936.6M62.39 935.23h4M62.39 936.6h4" class="eb"/>
<rect x="84.12" y="936.33" width="9.86" height="0.27" fill="#C00000"/>
<rect x="93.98" y="935.78" width="9.86" height="0.82" fill="#00B0F0"/>
<path d="M89.05 935.51V936.6M87.05 935.51h4M87.05 936.6h4" class="eb"/>
<path d="M98.91 934.82V936.33M96.91 934.82h4M96.91 936.33h4" class="eb"/>
<rect x="118.64" y="935.23" width="9.86" height="1.37" fill="#C00000"/>
<rect x="128.5" y="935.23" width="9.86" height="1.37" fill="#00B0F0"/>
<path d="M123.57 934.25V935.92M121.57 934.25h4M121.57 935.92h4" class="eb"/>
<path d="M133.43 933.87V936.05M131.43 933.87h4M131.43 936.05h4" class="eb"/>
<rect x="153.16" y="927.96" width="9.86" height="8.64" fill="#C00000"/>
<rect x="163.02" y="933.59" width="9.86" height="3.01" fill="#00B0F0"/>
<path d="M158.09 925.39V930.31M156.09 925.39h4M156.09 930.31h4" class="eb"/>
<path d="M167.95 932.23V934.96M165.95 932.23h4M165.95 934.96h4" class="eb"/>
<rect x="187.68" y="900.11" width="9.86" height="36.49" fill="#C00000"/>
<rect x="197.54" y="913.09" width="9.86" height="23.51" fill="#00B0F0"/>
<path d="M192.61 894.07V906.26M190.61 894.07h4M190.61 906.26h4" class="eb"/>
<path d="M202.47 909.27V917.47M200.47 909.27h4M200.47 917.47h4" class="eb"/>
<path d="M42.2 772.6V939.6" class="ax"/>
<path d="M39.2 936.6H214.8" class="ax"/>
<path d="M39.2 936.6H42.2" class="ax"/>
<text transform="translate(34 939.6) scale(1 1.08)" class="tk" text-anchor="end">0</text>
<path d="M39.2 909.27H42.2" class="ax"/>
<text transform="translate(34 912.27) scale(1 1.08)" class="tk" text-anchor="end">10</text>
<path d="M39.2 881.93H42.2" class="ax"/>
<text transform="translate(34 884.93) scale(1 1.08)" class="tk" text-anchor="end">20</text>
<path d="M39.2 854.6H42.2" class="ax"/>
<text transform="translate(34 857.6) scale(1 1.08)" class="tk" text-anchor="end">30</text>
<path d="M39.2 827.27H42.2" class="ax"/>
<text transform="translate(34 830.27) scale(1 1.08)" class="tk" text-anchor="end">40</text>
<path d="M39.2 799.93H42.2" class="ax"/>
<text transform="translate(34 802.93) scale(1 1.08)" class="tk" text-anchor="end">50</text>
<path d="M39.2 772.6H42.2" class="ax"/>
<text transform="translate(34 775.6) scale(1 1.08)" class="tk" text-anchor="end">60</text>
<path d="M76.72 936.6V939.8" class="xt"/>
<path d="M111.24 936.6V939.8" class="xt"/>
<path d="M145.76 936.6V939.8" class="xt"/>
<path d="M180.28 936.6V939.8" class="xt"/>
<path d="M214.8 936.6V939.8" class="xt"/>
<text transform="translate(59.46 950.8) scale(1 1.08)" class="tk" text-anchor="middle">30–44</text>
<text transform="translate(93.98 950.8) scale(1 1.08)" class="tk" text-anchor="middle">45–54</text>
<text transform="translate(128.5 950.8) scale(1 1.08)" class="tk" text-anchor="middle">55–64</text>
<text transform="translate(163.02 950.8) scale(1 1.08)" class="tk" text-anchor="middle">65–74</text>
<text transform="translate(197.54 950.8) scale(1 1.08)" class="tk" text-anchor="middle">75+</text>
<text transform="translate(128.5 963.9) scale(1 1.08)" class="tt" text-anchor="middle">Age (years)</text>
<text transform="translate(19.9 860.1) rotate(-90) scale(1 1.08)" class="tt" text-anchor="middle">Prevalence of impaired distance VA (%)</text>
<rect x="79.7" y="773.4" width="4.6" height="4.6" fill="#C00000"/>
<text transform="translate(86.5 778.7) scale(1 1.08)" class="tk">Women</text>
<rect x="124.1" y="773.4" width="4.6" height="4.6" fill="#00B0F0"/>
<text transform="translate(130.9 778.7) scale(1 1.08)" class="tk">Men</text>
<text transform="translate(238.6 758.6)" class="lab">k</text>
<rect x="279.7" y="936.19" width="9.86" height="0.41" fill="#C00000"/>
<path d="M284.63 935.78V936.46M282.63 935.78h4M282.63 936.46h4" class="eb"/>
<rect x="314.22" y="936.19" width="9.86" height="0.41" fill="#C00000"/>
<rect x="324.08" y="935.92" width="9.86" height="0.68" fill="#00B0F0"/>
<path d="M319.15 935.78V936.46M317.15 935.78h4M317.15 936.46h4" class="eb"/>
<path d="M329.01 935.37V936.33M327.01 935.37h4M327.01 936.33h4" class="eb"/>
<rect x="348.74" y="936.05" width="9.86" height="0.55" fill="#C00000"/>
<rect x="358.6" y="932.23" width="9.86" height="4.37" fill="#00B0F0"/>
<path d="M353.67 935.51V936.33M351.67 935.51h4M351.67 936.33h4" class="eb"/>
<path d="M363.53 930.31V934M361.53 930.31h4M361.53 934h4" class="eb"/>
<rect x="383.26" y="933.1" width="9.86" height="3.5" fill="#C00000"/>
<rect x="393.12" y="931.13" width="9.86" height="5.47" fill="#00B0F0"/>
<path d="M388.19 932.23V934.3M386.19 932.23h4M386.19 934.3h4" class="eb"/>
<path d="M398.05 928.13V934M396.05 928.13h4M396.05 934h4" class="eb"/>
<rect x="417.78" y="916.92" width="9.86" height="19.68" fill="#C00000"/>
<rect x="427.64" y="926.05" width="9.86" height="10.55" fill="#00B0F0"/>
<path d="M422.71 913.5V919.65M420.71 913.5h4M420.71 919.65h4" class="eb"/>
<path d="M432.57 922.5V929.49M430.57 922.5h4M430.57 929.49h4" class="eb"/>
<path d="M272.3 772.6V939.6" class="ax"/>
<path d="M269.3 936.6H444.9" class="ax"/>
<path d="M269.3 936.6H272.3" class="ax"/>
<text transform="translate(264.1 939.6) scale(1 1.08)" class="tk" text-anchor="end">0</text>
<path d="M269.3 909.27H272.3" class="ax"/>
<text transform="translate(264.1 912.27) scale(1 1.08)" class="tk" text-anchor="end">10</text>
<path d="M269.3 881.93H272.3" class="ax"/>
<text transform="translate(264.1 884.93) scale(1 1.08)" class="tk" text-anchor="end">20</text>
<path d="M269.3 854.6H272.3" class="ax"/>
<text transform="translate(264.1 857.6) scale(1 1.08)" class="tk" text-anchor="end">30</text>
<path d="M269.3 827.27H272.3" class="ax"/>
<text transform="translate(264.1 830.27) scale(1 1.08)" class="tk" text-anchor="end">40</text>
<path d="M269.3 799.93H272.3" class="ax"/>
<text transform="translate(264.1 802.93) scale(1 1.08)" class="tk" text-anchor="end">50</text>
<path d="M269.3 772.6H272.3" class="ax"/>
<text transform="translate(264.1 775.6) scale(1 1.08)" class="tk" text-anchor="end">60</text>
<path d="M306.82 936.6V939.8" class="xt"/>
<path d="M341.34 936.6V939.8" class="xt"/>
<path d="M375.86 936.6V939.8" class="xt"/>
<path d="M410.38 936.6V939.8" class="xt"/>
<path d="M444.9 936.6V939.8" class="xt"/>
<text transform="translate(289.56 950.8) scale(1 1.08)" class="tk" text-anchor="middle">30–44</text>
<text transform="translate(324.08 950.8) scale(1 1.08)" class="tk" text-anchor="middle">45–54</text>
<text transform="translate(358.6 950.8) scale(1 1.08)" class="tk" text-anchor="middle">55–64</text>
<text transform="translate(393.12 950.8) scale(1 1.08)" class="tk" text-anchor="middle">65–74</text>
<text transform="translate(427.64 950.8) scale(1 1.08)" class="tk" text-anchor="middle">75+</text>
<text transform="translate(358.6 963.9) scale(1 1.08)" class="tt" text-anchor="middle">Age (years)</text>
<text transform="translate(250 860.1) rotate(-90) scale(1 1.08)" class="tt" text-anchor="middle">Prevalence of impaired distance VA (%)</text>
<rect x="309.9" y="773.4" width="4.6" height="4.6" fill="#C00000"/>
<text transform="translate(316.7 778.7) scale(1 1.08)" class="tk">Women</text>
<rect x="354.3" y="773.4" width="4.6" height="4.6" fill="#00B0F0"/>
<text transform="translate(361.1 778.7) scale(1 1.08)" class="tk">Men</text>
<text transform="translate(468.6 758.6)" class="lab">l</text>
<rect x="555.92" y="935.94" width="9.02" height="0.66" fill="#C00000"/>
<rect x="564.94" y="935.62" width="9.02" height="0.98" fill="#00B0F0"/>
<path d="M560.43 935.45V936.44M558.43 935.45h4M558.43 936.44h4" class="eb"/>
<path d="M569.45 934.7V936.44M567.45 934.7h4M567.45 936.44h4" class="eb"/>
<rect x="587.48" y="935.65" width="9.02" height="0.95" fill="#C00000"/>
<rect x="596.5" y="934.24" width="9.02" height="2.36" fill="#00B0F0"/>
<path d="M591.99 935.12V936.11M589.99 935.12h4M589.99 936.11h4" class="eb"/>
<path d="M601.01 932.6V935.94M599.01 932.6h4M599.01 935.94h4" class="eb"/>
<rect x="619.04" y="934.24" width="9.02" height="2.36" fill="#C00000"/>
<rect x="628.06" y="934.01" width="9.02" height="2.59" fill="#00B0F0"/>
<path d="M623.55 932.86V935.94M621.55 932.86h4M621.55 935.94h4" class="eb"/>
<path d="M632.57 931.91V936.11M630.57 931.91h4M630.57 936.11h4" class="eb"/>
<rect x="650.6" y="920" width="9.02" height="16.6" fill="#C00000"/>
<rect x="659.62" y="924.69" width="9.02" height="11.91" fill="#00B0F0"/>
<path d="M655.11 916.49V923.48M653.11 916.49h4M653.11 923.48h4" class="eb"/>
<path d="M664.13 921.41V928.2M662.13 921.41h4M662.13 928.2h4" class="eb"/>
<path d="M517.6 772.6V939.6" class="ax"/>
<path d="M514.6 936.6H675.4" class="ax"/>
<path d="M514.6 936.6H517.6" class="ax"/>
<text transform="translate(509.9 939.6) scale(1 1.08)" class="tk" text-anchor="end">0</text>
<path d="M514.6 920.2H517.6" class="ax"/>
<text transform="translate(509.9 923.2) scale(1 1.08)" class="tk" text-anchor="end">50</text>
<path d="M514.6 903.8H517.6" class="ax"/>
<text transform="translate(509.9 906.8) scale(1 1.08)" class="tk" text-anchor="end">100</text>
<path d="M514.6 887.4H517.6" class="ax"/>
<text transform="translate(509.9 890.4) scale(1 1.08)" class="tk" text-anchor="end">150</text>
<path d="M514.6 871H517.6" class="ax"/>
<text transform="translate(509.9 874) scale(1 1.08)" class="tk" text-anchor="end">200</text>
<path d="M514.6 854.6H517.6" class="ax"/>
<text transform="translate(509.9 857.6) scale(1 1.08)" class="tk" text-anchor="end">250</text>
<path d="M514.6 838.2H517.6" class="ax"/>
<text transform="translate(509.9 841.2) scale(1 1.08)" class="tk" text-anchor="end">300</text>
<path d="M514.6 821.8H517.6" class="ax"/>
<text transform="translate(509.9 824.8) scale(1 1.08)" class="tk" text-anchor="end">350</text>
<path d="M514.6 805.4H517.6" class="ax"/>
<text transform="translate(509.9 808.4) scale(1 1.08)" class="tk" text-anchor="end">400</text>
<path d="M514.6 789H517.6" class="ax"/>
<text transform="translate(509.9 792) scale(1 1.08)" class="tk" text-anchor="end">450</text>
<path d="M514.6 772.6H517.6" class="ax"/>
<text transform="translate(509.9 775.6) scale(1 1.08)" class="tk" text-anchor="end">500</text>
<path d="M549.16 936.6V939.8" class="xt"/>
<path d="M580.72 936.6V939.8" class="xt"/>
<path d="M612.28 936.6V939.8" class="xt"/>
<path d="M643.84 936.6V939.8" class="xt"/>
<path d="M675.4 936.6V939.8" class="xt"/>
<text transform="translate(533.38 950.8) scale(1 1.08)" class="tk" text-anchor="middle">30–44</text>
<text transform="translate(564.94 950.8) scale(1 1.08)" class="tk" text-anchor="middle">45–54</text>
<text transform="translate(596.5 950.8) scale(1 1.08)" class="tk" text-anchor="middle">55–64</text>
<text transform="translate(628.06 950.8) scale(1 1.08)" class="tk" text-anchor="middle">65–74</text>
<text transform="translate(659.62 950.8) scale(1 1.08)" class="tk" text-anchor="middle">75+</text>
<text transform="translate(596.5 963.9) scale(1 1.08)" class="tt" text-anchor="middle">Age (years)</text>
<text transform="translate(480.2 854.6) rotate(-90) scale(1 1.08)" class="tt" text-anchor="middle">Incidence of impaired distance VA</text>
<text transform="translate(490.8 854.6) rotate(-90) scale(1 1.08)" class="tt" text-anchor="middle">(/year/10 000 individuals)</text>
<rect x="539.9" y="773.4" width="4.6" height="4.6" fill="#C00000"/>
<text transform="translate(546.7 778.7) scale(1 1.08)" class="tk">Women</text>
<rect x="584.3" y="773.4" width="4.6" height="4.6" fill="#00B0F0"/>
<text transform="translate(591.1 778.7) scale(1 1.08)" class="tk">Men</text>
</svg>
</body></html>
